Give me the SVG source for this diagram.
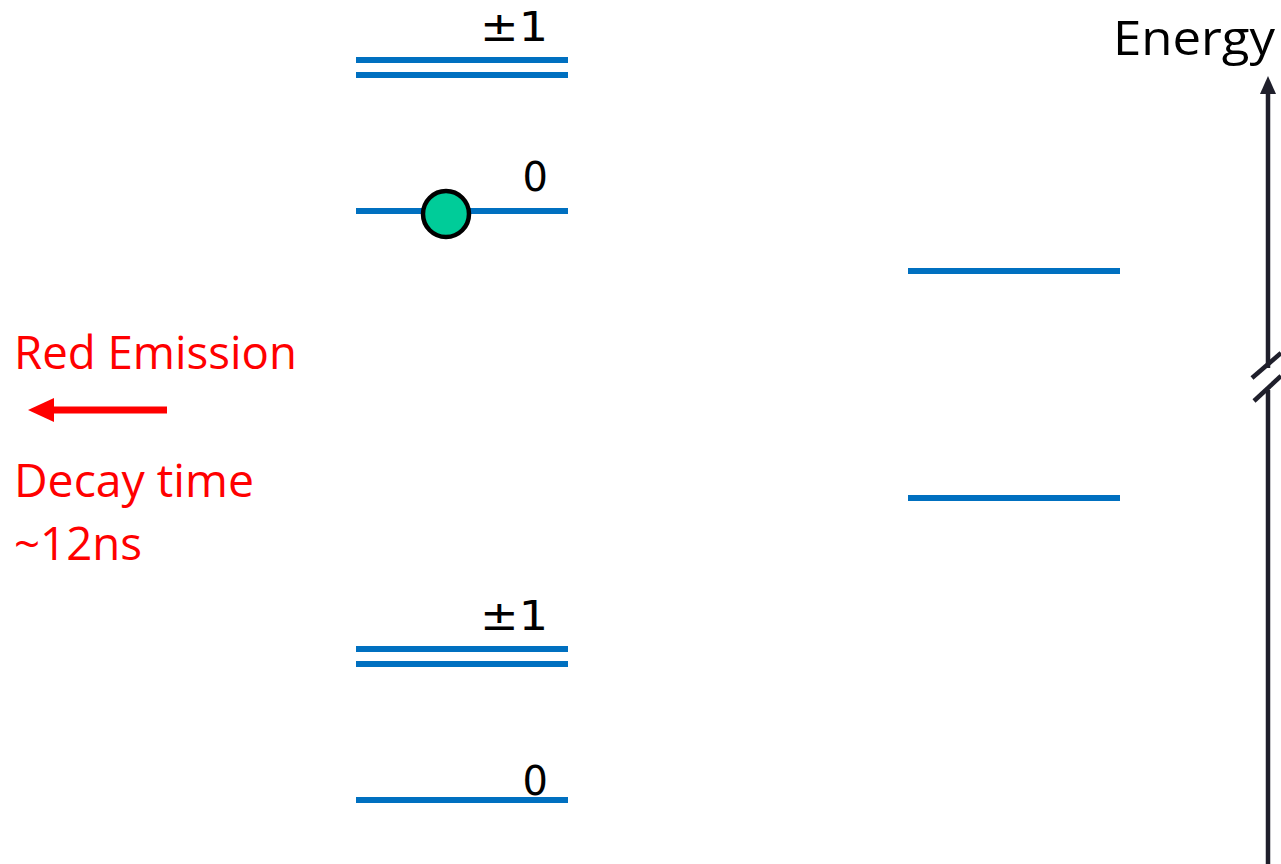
<svg xmlns="http://www.w3.org/2000/svg" width="1281" height="864" viewBox="0 0 1281 864">
<style>
.lvl{stroke:#0070C0;stroke-width:6;fill:none}
.lbl{font-family:"DejaVu Sans",sans-serif;font-size:40px;fill:#000}
.red{font-family:"Open Sans","Liberation Sans",sans-serif;font-size:46px;fill:#FF0000}
.axis{stroke:#1f1f2b;stroke-width:4.5;fill:none}
</style>
<rect width="1281" height="864" fill="#fff"/>
<g id="upper-pm1">
<line class="lvl" x1="356" y1="60" x2="568" y2="60"/>
<line class="lvl" x1="356" y1="75" x2="568" y2="75"/>
<text class="lbl" x="480" y="41" textLength="68" lengthAdjust="spacingAndGlyphs">±1</text>
</g>
<g id="upper-0">
<line class="lvl" x1="356" y1="211" x2="568" y2="211"/>
<text class="lbl" x="548" y="191" text-anchor="end">0</text>
<circle cx="446" cy="214" r="23" fill="#00CC99" stroke="#000" stroke-width="4.5"/>
</g>
<g id="right-upper"><line class="lvl" x1="908" y1="271" x2="1120" y2="271"/></g>
<g id="right-lower"><line class="lvl" x1="908" y1="498" x2="1120" y2="498"/></g>
<g id="lower-pm1">
<line class="lvl" x1="356" y1="649" x2="568" y2="649"/>
<line class="lvl" x1="356" y1="664" x2="568" y2="664"/>
<text class="lbl" x="480" y="630" textLength="68" lengthAdjust="spacingAndGlyphs">±1</text>
</g>
<g id="lower-0">
<line class="lvl" x1="356" y1="800" x2="568" y2="800"/>
<text class="lbl" x="548" y="795" text-anchor="end">0</text>
</g>
<g id="emission">
<text class="red" x="14" y="369" textLength="283" lengthAdjust="spacingAndGlyphs">Red Emission</text>
<line x1="48" y1="410" x2="167" y2="410" stroke="#FF0000" stroke-width="7"/>
<path d="M28,410 L54,398 L54,422 z" fill="#FF0000"/>
<text class="red" x="14" y="497" textLength="240" lengthAdjust="spacingAndGlyphs">Decay time</text>
<text class="red" x="14" y="560" textLength="128" lengthAdjust="spacingAndGlyphs">~12ns</text>
</g>
<g id="connectors">
<line class="axis" x1="1268" y1="864" x2="1268" y2="390"/>
<line class="axis" x1="1268" y1="368" x2="1268" y2="92"/>
<path d="M1268,76 L1276,94 L1260,94 z" fill="#1f1f2b"/>
<line class="axis" x1="1252" y1="378" x2="1281" y2="353"/>
<line class="axis" x1="1254" y1="401" x2="1281" y2="376"/>
</g>
<g id="energy-label">
<text x="1113" y="55" font-family="'Open Sans','DejaVu Sans',sans-serif" font-size="48" fill="#000" textLength="162" lengthAdjust="spacingAndGlyphs">Energy</text>
</g>
</svg>
